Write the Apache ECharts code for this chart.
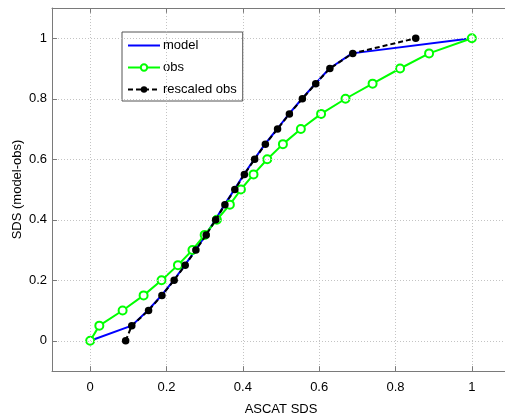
<!DOCTYPE html>
<html><head><meta charset="utf-8">
<script src="https://cdn.jsdelivr.net/npm/echarts@6/dist/echarts.min.js"></script>
<style>html,body{margin:0;padding:0;background:#fff}#c{width:505px;height:416px}</style>
</head><body><div id="c"></div>
<script>
var yLevels = [0,0.05,0.1,0.15,0.2,0.25,0.3,0.35,0.4,0.45,0.5,0.55,0.6,0.65,0.7,0.75,0.8,0.85,0.9,0.95,1];
var modelX = [0,0.109,0.151,0.187,0.219,0.248,0.276,0.303,0.328,0.352,0.378,0.403,0.430,0.458,0.490,0.521,0.555,0.590,0.627,0.686,1.0];
var obsX = [0,0.024,0.085,0.140,0.187,0.230,0.268,0.300,0.332,0.366,0.395,0.428,0.464,0.505,0.552,0.605,0.669,0.740,0.812,0.888,1.0];
var rescaledX = [0.093,0.109,0.153,0.188,0.220,0.249,0.277,0.304,0.329,0.353,0.379,0.404,0.431,0.459,0.491,0.522,0.556,0.591,0.628,0.688,0.853];
var xTicks = [0,0.2,0.4,0.6,0.8,1];
var yTicks = [0,0.2,0.4,0.6,0.8,1];

function pairs(xs, ys){ return xs.map(function(x,i){ return [x, ys[i]]; }); }
function fmt(v){
  for (var i=0;i<xTicks.length;i++){ if (Math.abs(xTicks[i]-v)<1e-6) return String(xTicks[i]); }
  return '';
}
function fmtY(v){
  for (var i=0;i<yTicks.length;i++){ if (Math.abs(yTicks[i]-v)<1e-6) return String(yTicks[i]); }
  return '';
}
var FONT = 'Liberation Sans';
var axisCol = '#7a7a7a';

var chart = echarts.init(document.getElementById('c'), null, {renderer:'canvas'});
chart.setOption({
  animation:false,
  backgroundColor:'#fff',
  textStyle:{fontFamily:FONT},
  grid:{left:52, top:8, width:458, height:363, show:false, containLabel:false, outerBoundsMode:'none'},
  legend:{
    orient:'vertical', left:122, top:32, width:122,
    backgroundColor:'#fff', borderColor:'#555', borderWidth:1,
    padding:[7,6,5,5], itemGap:9, itemWidth:32, itemHeight:8,
    textStyle:{fontFamily:FONT, fontSize:13, color:'#000', padding:[0,0,0,-2]},
    data:[{name:'model', itemStyle:{opacity:0}},'obs','rescaled obs']
  },
  xAxis:[{
    type:'value', min:-0.1, max:1.1, interval:0.1, position:'bottom',
    name:'ASCAT SDS', nameLocation:'middle', nameGap:32, nameMoveOverlap:false,
    nameTextStyle:{fontFamily:FONT, fontSize:13, color:'#000'},
    axisLine:{show:true, onZero:false, lineStyle:{color:axisCol}},
    axisTick:{show:false},
    axisLabel:{fontFamily:FONT, fontSize:13, color:'#000', margin:10, formatter:fmt, showMinLabel:false, showMaxLabel:false},
    splitLine:{show:false}
  },{
    type:'value', min:-0.1, max:1.1, interval:0.1, position:'top',
    axisLine:{show:true, onZero:false, lineStyle:{color:axisCol}}, axisLabel:{show:false}, axisTick:{show:false}, splitLine:{show:false}
  }],
  yAxis:[{
    type:'value', min:-0.1, max:1.1, interval:0.1,
    name:'SDS (model-obs)', nameLocation:'middle', nameGap:28, nameMoveOverlap:false,
    nameTextStyle:{fontFamily:FONT, fontSize:13, color:'#000'},
    axisLine:{show:true, onZero:false, lineStyle:{color:axisCol}},
    axisTick:{show:false},
    axisLabel:{fontFamily:FONT, fontSize:13, color:'#000', margin:5, formatter:fmtY, showMinLabel:false, showMaxLabel:false},
    splitLine:{show:false}
  }],
  series:[
    {type:'line', name:'grid-x', silent:true, data:[], markLine:{silent:true, symbol:'none', label:{show:false},
      lineStyle:{color:'#c4c4c4', type:[1,2], width:1},
      data: xTicks.map(function(t){return {xAxis:t};}).concat(yTicks.map(function(t){return {yAxis:t};}))}},
    {type:'line', name:'ticks', silent:true, data:[], markLine:{silent:true, symbol:'none', label:{show:false},
      lineStyle:{color:axisCol, type:'solid', width:1},
      data: [].concat(
        xTicks.map(function(t){return [{coord:[t,-0.1]},{coord:[t,-0.1+0.016]}];}),
        xTicks.map(function(t){return [{coord:[t,1.1]},{coord:[t,1.1-0.016]}];}),
        yTicks.map(function(t){return [{coord:[-0.1,t]},{coord:[-0.1+0.013,t]}];})
      )}},
    {type:'line', name:'model', data:pairs(modelX, yLevels), showSymbol:false, symbol:'none',
      lineStyle:{color:'#0000ff', width:2}, itemStyle:{color:'#0000ff'}, z:3},
    {type:'line', name:'obs', data:pairs(obsX, yLevels), symbol:'emptyCircle', symbolSize:8, showAllSymbol:true,
      lineStyle:{color:'#00ff00', width:2}, itemStyle:{color:'#00ff00', borderColor:'#00ff00', borderWidth:2}, z:4},
    {type:'line', name:'rescaled obs', data:pairs(rescaledX, yLevels), symbol:'circle', symbolSize:7.5, showAllSymbol:true,
      lineStyle:{color:'#000', width:2, type:[5,3]}, itemStyle:{color:'#000'}, z:5}
  ]
});
</script></body></html>
